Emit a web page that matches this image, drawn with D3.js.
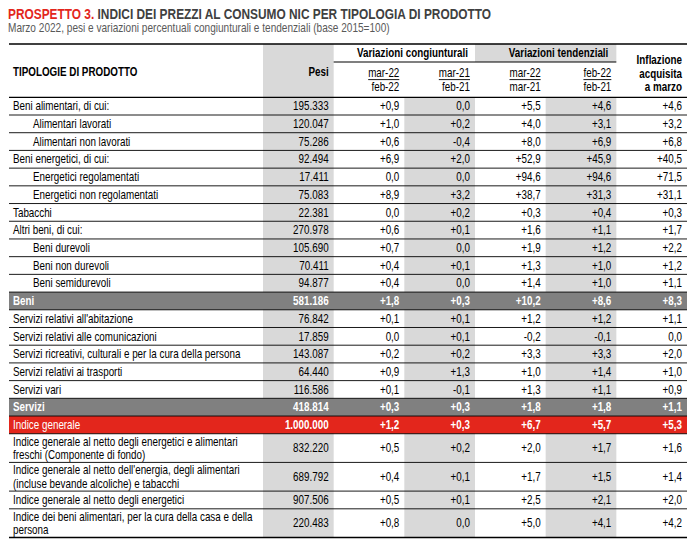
<!DOCTYPE html>
<html>
<head>
<meta charset="utf-8">
<script src="https://cdn.jsdelivr.net/npm/d3@7.9.0/dist/d3.min.js"></script>
<style>
  body { margin: 0; background: #fff; }
  svg { display: block; font-family: 'Liberation Sans', Arial, sans-serif; }
</style>
</head>
<body>
<div id="chart"></div>
<script>
// row labels ("\n" = line break inside the cell)
const labels = [
  "Beni alimentari, di cui:", "Alimentari lavorati", "Alimentari non lavorati",
  "Beni energetici, di cui:", "Energetici regolamentati", "Energetici non regolamentati",
  "Tabacchi", "Altri beni, di cui:", "Beni durevoli", "Beni non durevoli", "Beni semidurevoli",
  "Beni",
  "Servizi relativi all'abitazione", "Servizi relativi alle comunicazioni",
  "Servizi ricreativi, culturali e per la cura della persona", "Servizi relativi ai trasporti", "Servizi vari",
  "Servizi", "Indice generale",
  "Indice generale al netto degli energetici e alimentari\nfreschi (Componente di fondo)",
  "Indice generale al netto dell'energia, degli alimentari\n(incluse bevande alcoliche) e tabacchi",
  "Indice generale al netto degli energetici",
  "Indice dei beni alimentari, per la cura della casa e della\npersona"
];
// item | sub | total | general
const rowKind = [
  "item", "sub", "sub", "item", "sub", "sub", "item", "item", "sub", "sub", "sub",
  "total", "item", "item", "item", "item", "item", "total", "general",
  "item", "item", "item", "item"
];
const pesi = [195333, 120047, 75286, 92494, 17411, 75083, 22381, 270978, 105690, 70411, 94877,
  581186, 76842, 17859, 143087, 64440, 116586, 418814, 1000000, 832220, 689792, 907506, 220483];
const congMar22 = [0.9, 1.0, 0.6, 6.9, 0.0, 8.9, 0.0, 0.6, 0.7, 0.4, 0.4,
  1.8, 0.1, 0.0, 0.2, 0.9, 0.1, 0.3, 1.2, 0.5, 0.4, 0.5, 0.8];
const congMar21 = [0.0, 0.2, -0.4, 2.0, 0.0, 3.2, 0.2, 0.1, 0.0, 0.1, 0.0,
  0.3, 0.1, 0.1, 0.2, 1.3, -0.1, 0.3, 0.3, 0.2, 0.1, 0.1, 0.0];
const tendMar = [5.5, 4.0, 8.0, 52.9, 94.6, 38.7, 0.3, 1.6, 1.9, 1.3, 1.4,
  10.2, 1.2, -0.2, 3.3, 1.0, 1.3, 1.8, 6.7, 2.0, 1.7, 2.5, 5.0];
const tendFeb = [4.6, 3.1, 6.9, 45.9, 94.6, 31.3, 0.4, 1.1, 1.2, 1.0, 1.0,
  8.6, 1.2, -0.1, 3.3, 1.4, 1.1, 1.8, 5.7, 1.7, 1.5, 2.1, 4.1];
const inflAcq = [4.6, 3.2, 6.8, 40.5, 71.5, 31.1, 0.3, 1.7, 2.2, 1.2, 1.1,
  8.3, 1.1, 0.0, 2.0, 1.0, 0.9, 1.1, 5.3, 1.6, 1.4, 2.0, 4.2];

const columns = ["pesi", "c1", "c2", "t1", "t2", "inf"];
const subTop = ["mar-22", "mar-21", "mar-22", "feb-22"];
const subBottom = ["feb-22", "feb-21", "mar-21", "feb-21"];

const it = d3.formatLocale({ decimal: ",", thousands: ".", grouping: [3], currency: ["€", ""], minus: "-" });
const fmtW = it.format(",d");
const fmtV = (v) => (v === 0 ? "0,0" : it.format("+.1f")(v));

const width = 697, height = 546;
const RED = "#e3261c", GREY_BAND = "#808080", SHADE = "#d9d9d9";
// no narrow font installed: squeeze Liberation Sans horizontally
const NARROW = 0.82;
const sx = (v) => v / NARROW;

const svg = d3.select("#chart").append("svg")
  .attr("width", width).attr("height", height);

const left = 9, right = 687;
const x = d3.scaleBand().domain(columns).range([263, right]);

// row heights: two-line rows are taller
const units = labels.map((l) => (l.includes("\n") ? 1.62 : 1));
const starts = d3.cumsum([0, ...units]);
const y = d3.scaleLinear().domain([0, d3.sum(units)]).range([97.3, 537.5]);

const rows = labels.map((label, i) => ({
  label, kind: rowKind[i], y0: y(starts[i]), y1: y(starts[i + 1]),
  vals: [fmtW(pesi[i]), fmtV(congMar22[i]), fmtV(congMar21[i]), fmtV(tendMar[i]), fmtV(tendFeb[i]), fmtV(inflAcq[i])]
}));
const isBand = (d) => d.kind === "total" || d.kind === "general";

// shaded columns
svg.append("rect").attr("x", x("pesi")).attr("y", 44).attr("width", x.bandwidth())
  .attr("height", 537.5 - 44).attr("fill", SHADE);
["c2", "t2"].forEach((c) => {
  svg.append("rect").attr("x", x(c)).attr("y", 97.3).attr("width", x.bandwidth())
    .attr("height", 537.5 - 97.3).attr("fill", SHADE);
});
svg.append("rect").attr("x", x("t1")).attr("y", 44).attr("width", x.bandwidth() * 2)
  .attr("height", 18).attr("fill", SHADE);

// total rows
svg.append("g").selectAll("rect").data(rows.filter(isBand)).join("rect")
  .attr("x", left).attr("y", (d) => d.y0)
  .attr("width", right - left).attr("height", (d) => d.y1 - d.y0)
  .attr("fill", (d) => (d.kind === "general" ? RED : GREY_BAND));

// rules
const rules = svg.append("g").attr("stroke", "#000");
rules.selectAll("line.r").data(starts.slice(1, -1)).join("line").attr("class", "r")
  .attr("x1", left).attr("x2", right)
  .attr("y1", (d) => y(d)).attr("y2", (d) => y(d)).attr("stroke-width", 0.9);
[44, 97.3, 537.5].forEach((yy) => {
  rules.append("line").attr("x1", left).attr("x2", right).attr("y1", yy).attr("y2", yy).attr("stroke-width", 1.3);
});
rules.append("line").attr("x1", x("c1")).attr("x2", x("t2") + x.bandwidth())
  .attr("y1", 62).attr("y2", 62).attr("stroke-width", 1.1);

// all text lives in a horizontally squeezed layer
const txt = svg.append("g").attr("transform", `scale(${NARROW},1)`);

// title
const title = txt.append("text").attr("x", sx(8)).attr("y", 19.5)
  .style("font-size", "14.5px").style("font-weight", "bold");
title.append("tspan").attr("fill", RED).text("PROSPETTO 3.");
title.append("tspan").attr("fill", "#404040").text(" INDICI DEI PREZZI AL CONSUMO NIC PER TIPOLOGIA DI PRODOTTO");
txt.append("text").attr("x", sx(8)).attr("y", 32.5)
  .attr("fill", "#595959").style("font-size", "12.3px")
  .text("Marzo 2022, pesi e variazioni percentuali congiunturali e tendenziali (base 2015=100)");

// header
const head = txt.append("g").style("font-size", "12px").style("font-weight", "bold").attr("fill", "#000");
head.append("text").attr("x", sx(13)).attr("y", 76).text("TIPOLOGIE DI PRODOTTO");
head.append("text").attr("x", sx(x("pesi") + x.bandwidth() - 5)).attr("y", 76)
  .attr("text-anchor", "end").text("Pesi");
head.append("text").attr("x", sx(x("c2") + x.bandwidth() - 7)).attr("y", 57.5)
  .attr("text-anchor", "end").text("Variazioni congiunturali");
head.append("text").attr("x", sx(x("t2") + x.bandwidth() - 8)).attr("y", 57.5)
  .attr("text-anchor", "end").text("Variazioni tendenziali");
["Inflazione", "acquisita", "a marzo"].forEach((t, i) => {
  head.append("text").attr("x", sx(x("inf") + x.bandwidth() - 5)).attr("y", 64.5 + i * 13.4)
    .attr("text-anchor", "end").text(t);
});

const sub = txt.append("g").style("font-size", "12px");
["c1", "c2", "t1", "t2"].forEach((c, i) => {
  const xr = x(c) + x.bandwidth() - 5;
  const top = sub.append("text").attr("x", sx(xr)).attr("y", 77.5).attr("text-anchor", "end").text(subTop[i]);
  const w = top.node().getComputedTextLength() * NARROW;
  rules.append("line").attr("x1", xr - w).attr("x2", xr).attr("y1", 79.6).attr("y2", 79.6)
    .attr("stroke-width", 0.9);
  sub.append("text").attr("x", sx(xr)).attr("y", 91.5).attr("text-anchor", "end").text(subBottom[i]);
});

// row labels and values
const g = txt.append("g").style("font-size", "12px");
const row = g.selectAll("g.row").data(rows).join("g").attr("class", "row");

row.append("text")
  .attr("x", (d) => sx(d.kind === "sub" ? 33 : 13))
  .attr("y", (d) => {
    const n = d.label.split("\n").length;
    return (d.y0 + d.y1) / 2 + 4.2 - (n - 1) * 6.6;
  })
  .attr("fill", (d) => (isBand(d) ? "#fff" : "#000"))
  .style("font-weight", (d) => (d.kind === "total" ? "bold" : "normal"))
  .selectAll("tspan").data((d) => d.label.split("\n")).join("tspan")
  .attr("x", function () { return this.parentNode.getAttribute("x"); })
  .attr("dy", (d, i) => (i === 0 ? 0 : 13.2))
  .text((d) => d);

row.selectAll("text.v").data((d) => d.vals.map((v, j) => ({ v, col: columns[j], r: d })))
  .join("text").attr("class", "v")
  .attr("x", (d) => sx(x(d.col) + x.bandwidth() - 5))
  .attr("y", (d) => (d.r.y0 + d.r.y1) / 2 + 4.2)
  .attr("text-anchor", "end")
  .attr("fill", (d) => (isBand(d.r) ? "#fff" : "#000"))
  .style("font-weight", (d) => (isBand(d.r) ? "bold" : "normal"))
  .text((d) => d.v);
</script>
</body>
</html>
